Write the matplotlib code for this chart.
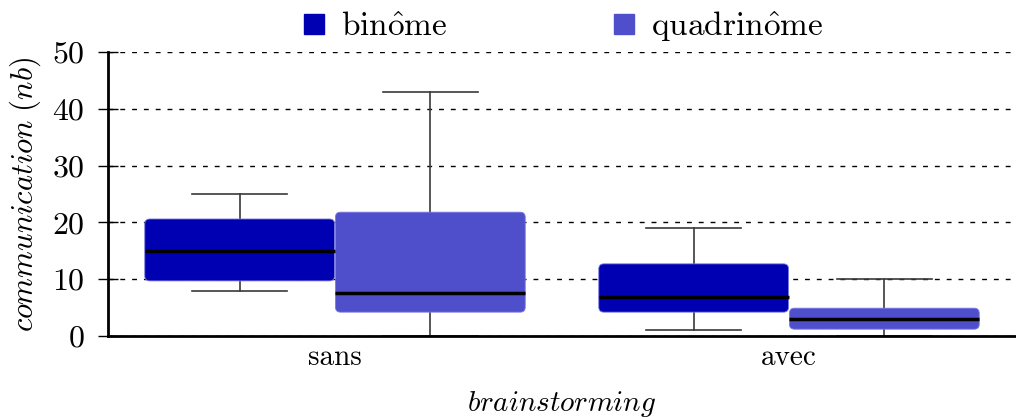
import matplotlib
matplotlib.use("Agg")
import matplotlib.pyplot as plt
from matplotlib.patches import FancyBboxPatch
from matplotlib.lines import Line2D

plt.rcParams['mathtext.fontset'] = 'cm'
plt.rcParams['font.family'] = ['cmr10', 'DejaVu Serif']
plt.rcParams['axes.unicode_minus'] = False

groups = ["sans", "avec"]
series = [r"$\mathrm{bin\hat{o}me}$", r"$\mathrm{quadrin\hat{o}me}$"]
colors = ["#0000B3", "#4F4FCC"]

# per series: values for [sans, avec]
whislo = [[8, 1], [0, 0]]
q1 = [[9.7, 4.2], [4.2, 1.2]]
med = [[15, 6.9], [7.5, 3.0]]
q3 = [[20.6, 12.7], [21.8, 4.9]]
whishi = [[25, 19], [43, 10]]

fig = plt.figure(figsize=(10.16, 4.17), dpi=100)
ax = fig.add_axes([108 / 1016, 1 - 336 / 417, 908 / 1016, 284 / 417])

width = 0.418
offsets = [-0.21, 0.21]
for s in range(2):
    stats = []
    for g in range(2):
        stats.append(dict(whislo=whislo[s][g], q1=q1[s][g], med=med[s][g],
                          q3=q3[s][g], whishi=whishi[s][g], fliers=[]))
    pos = [g + offsets[s] for g in range(2)]
    ax.bxp(stats, positions=pos, widths=width, showfliers=False,
           patch_artist=True,
           boxprops=dict(facecolor='none', edgecolor='none'),
           whiskerprops=dict(color='#3a3a3a', lw=1.2),
           capprops=dict(color='#3a3a3a', lw=1.2),
           medianprops=dict(color='black', lw=2.5, zorder=5),
           capwidths=width / 2, manage_ticks=False)
    for g in range(2):
        rr = 0.011
        p = FancyBboxPatch((pos[g] - width / 2 + rr, q1[s][g] + rr * 80),
                           width - 2 * rr, q3[s][g] - q1[s][g] - 2 * rr * 80,
                           boxstyle="round,pad=0.011",
                           mutation_aspect=80,
                           facecolor=colors[s], edgecolor='#7a7ae0',
                           lw=0.6, zorder=3)
        ax.add_patch(p)

ax.set_xlim(-0.5, 1.5)
ax.set_ylim(0, 50)
ax.set_xticks([0, 1])
ax.set_xticklabels(groups)
ax.set_yticks([0, 10, 20, 30, 40, 50])
ax.tick_params(axis='x', length=0, labelsize=21, pad=6)
ax.tick_params(axis='y', direction='inout', length=14, width=1, labelsize=23, pad=10)
for lab in ax.get_yticklabels() + ax.get_xticklabels():
    lab.set_fontfamily('cmr10')

ax.yaxis.grid(True, linestyle=(0, (3.5, 5)), color='black', lw=1)
ax.set_axisbelow(True)
for sp in ['top', 'right']:
    ax.spines[sp].set_visible(False)
ax.spines['left'].set_linewidth(2)
ax.spines['bottom'].set_linewidth(2)

ax.set_ylabel(r"$\mathit{communication\ (nb)}$", fontsize=22, labelpad=7)
ax.set_xlabel(r"$\mathit{brainstorming}$", fontsize=21, labelpad=13)

handles = [Line2D([], [], marker='s', ls='none', markersize=15,
                  markerfacecolor=c, markeredgecolor=c) for c in colors]
fig.legend(handles, series, loc='upper center', bbox_to_anchor=(0.553, 1.05),
           ncol=2, frameon=False, fontsize=24, columnspacing=4.9,
           handlelength=0.8, handletextpad=0.4)

fig.savefig("out.png", dpi=100)
